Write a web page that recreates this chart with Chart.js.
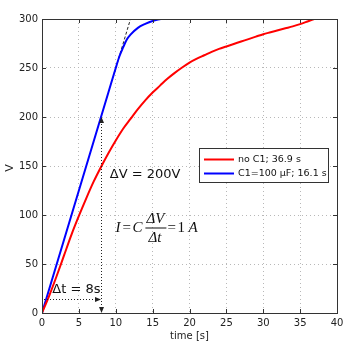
<!DOCTYPE html>
<html><head><meta charset="utf-8">
<script src="https://cdn.jsdelivr.net/npm/chart.js@4.4.1/dist/chart.umd.min.js"></script>
<style>html,body{margin:0;padding:0;background:#fff;}#wrap{width:357px;height:356px;}</style>
</head><body><div id="wrap"><canvas id="c" width="357" height="356"></canvas></div>
<script>
// ---- data ----
const redT = [0,1,2,3,4,5,6,7,8,9,10,11,12,13,14,15,16,17,18,19,20,21,22,23,24,25,26,27,28,29,30,31,32,33,34,35,36,36.9];
const redV = [0,18,38,59,80,99,117,134,149,163,176,188,198,208,217,225,232,239,245,250.5,255.5,259.5,263,266.5,269.5,272,274.5,277,279.5,282,284.5,286.5,288.5,290.5,292.5,294.8,297.5,300];
const blueT = [0,1,2,3,4,5,6,7,8,9,10,10.5,11,11.5,12,13,14,15,16.1];
const blueV = [0,25,50,75,100,125,150,175,200,225,250,262,271,279,284,291,295,298,300];
const tangentT = [9.8,12];
const tangentV = [245,300];
const seriesLabels = ['no C1; 36.9 s','C1=100 µF; 16.1 s'];
const xTicks = {min:0,max:40,step:5};
const yTicks = {min:0,max:300,step:50};
const dtValue = 8, dvValue = 200, dtArrowV = 14;
const xTitle = 'time [s]', yTitle = 'V';

const pts = (xs,ys)=>xs.map((x,i)=>({x,y:ys[i]}));

const annot = {
  id:'annot',
  afterDatasetsDraw(chart){
    const {ctx, chartArea:a, scales:{x,y}} = chart;
    ctx.save();
    // frame
    ctx.strokeStyle='#333'; ctx.lineWidth=1; ctx.setLineDash([]);
    ctx.strokeRect(Math.round(a.left)+0.5, Math.round(a.top)+0.5, Math.round(a.right-a.left), Math.round(a.bottom-a.top));
    // inward ticks
    ctx.beginPath();
    for(let v=xTicks.min; v<=xTicks.max; v+=xTicks.step){
      const px=Math.round(x.getPixelForValue(v))+0.5;
      ctx.moveTo(px,a.bottom); ctx.lineTo(px,a.bottom-4);
      ctx.moveTo(px,a.top); ctx.lineTo(px,a.top+4);
    }
    for(let v=yTicks.min; v<=yTicks.max; v+=yTicks.step){
      const py=Math.round(y.getPixelForValue(v))+0.5;
      ctx.moveTo(a.left,py); ctx.lineTo(a.left+4,py);
      ctx.moveTo(a.right,py); ctx.lineTo(a.right-4,py);
    }
    ctx.stroke();
    // dotted annotations
    ctx.strokeStyle='#222'; ctx.fillStyle='#222'; ctx.lineWidth=1; ctx.setLineDash([1,2]);
    const vx=Math.round(x.getPixelForValue(dtValue))+0.5;
    const vTop=y.getPixelForValue(dvValue), vBot=y.getPixelForValue(0);
    ctx.beginPath(); ctx.moveTo(vx,vTop+4); ctx.lineTo(vx,vBot-4); ctx.stroke();
    const hy=Math.round(y.getPixelForValue(dtArrowV))+0.5;
    const hL=x.getPixelForValue(0), hR=x.getPixelForValue(dtValue);
    ctx.beginPath(); ctx.moveTo(hL+2,hy); ctx.lineTo(hR-4,hy); ctx.stroke();
    ctx.setLineDash([]);
    const tri=(p)=>{ctx.beginPath();ctx.moveTo(p[0],p[1]);ctx.lineTo(p[2],p[3]);ctx.lineTo(p[4],p[5]);ctx.closePath();ctx.fill();};
    tri([vx,vTop, vx-2.5,vTop+6, vx+2.5,vTop+6]);
    tri([vx,vBot, vx-2.5,vBot-6, vx+2.5,vBot-6]);
    tri([hR,hy, hR-6,hy-2.5, hR-6,hy+2.5]);
    // texts
    ctx.fillStyle='#111';
    ctx.font='13px "DejaVu Sans"'; ctx.textBaseline='middle'; ctx.textAlign='left';
    ctx.fillText('\u0394V = 200V', x.getPixelForValue(9.2), y.getPixelForValue(141));
    ctx.fillText('\u0394t = 8s', x.getPixelForValue(1.4), y.getPixelForValue(24));
    // formula
    const it='italic 15px "Liberation Serif"', rm='15px "Liberation Serif"';
    const fx=x.getPixelForValue(9.95), fy=y.getPixelForValue(87);
    ctx.font=it; ctx.fillText('I', fx, fy);
    ctx.font=rm; ctx.fillText('=', fx+7, fy);
    ctx.font=it; ctx.fillText('C', fx+17, fy);
    const fracX=fx+30;
    ctx.fillText('\u0394V', fracX+1, fy-9);
    ctx.fillText('\u0394t', fracX+3, fy+10);
    ctx.fillRect(fracX, Math.round(fy)-0.5, 21, 1);
    ctx.font=rm; ctx.fillText('=', fracX+22, fy);
    ctx.fillText('1', fracX+32, fy);
    ctx.font=it; ctx.fillText('A', fracX+43, fy);
    // legend
    const lx=Math.round(x.getPixelForValue(21.3)), ly=Math.round(y.getPixelForValue(168.4)), lw=129, lh=34;
    ctx.fillStyle='#fff'; ctx.fillRect(lx,ly,lw,lh);
    ctx.strokeStyle='#333'; ctx.lineWidth=1;
    ctx.strokeRect(lx+0.5,ly+0.5,lw,lh);
    ctx.font='9.5px "DejaVu Sans"'; ctx.textBaseline='middle';
    chart.data.datasets.slice(0,2).forEach((ds,i)=>{
      const ry=Math.round(ly+11+i*14)+0.5;
      ctx.strokeStyle=ds.borderColor; ctx.lineWidth=2;
      ctx.beginPath(); ctx.moveTo(lx+5,ry); ctx.lineTo(lx+35,ry); ctx.stroke();
      ctx.fillStyle='#111'; ctx.fillText(ds.label, lx+39, ry);
    });
    // axis titles
    ctx.fillStyle='#222'; ctx.font='10px "DejaVu Sans"'; ctx.textAlign='center';
    ctx.fillText(xTitle, (a.left+a.right)/2, a.bottom+23);
    ctx.save(); ctx.translate(10,(a.top+a.bottom)/2+2); ctx.rotate(-Math.PI/2);
    ctx.font='11px "DejaVu Sans"'; ctx.fillText(yTitle,0,0); ctx.restore();
    ctx.restore();
  }
};

new Chart(document.getElementById('c'),{
  type:'scatter',
  data:{datasets:[
    {label:seriesLabels[0], data:pts(redT,redV), borderColor:'#ff0000', borderWidth:2, showLine:true, pointRadius:0, cubicInterpolationMode:'monotone'},
    {label:seriesLabels[1], data:pts(blueT,blueV), borderColor:'#0000ff', borderWidth:2, showLine:true, pointRadius:0, cubicInterpolationMode:'monotone'},
    {label:'tangent', data:pts(tangentT,tangentV), borderColor:'#222', borderWidth:1, borderDash:[3,2], showLine:true, pointRadius:0}
  ]},
  options:{
    responsive:false, animation:false, devicePixelRatio:1,
    layout:{padding:{top:19,right:20,left:0,bottom:0}},
    plugins:{legend:{display:false},tooltip:{enabled:false}},
    scales:{
      x:{type:'linear',min:xTicks.min,max:xTicks.max,
        afterFit:(s)=>{s.height=43;},
        ticks:{stepSize:xTicks.step,color:'#222',font:{family:'DejaVu Sans',size:10},padding:4,maxRotation:0},
        grid:{color:'#b8b8b8',drawTicks:false},border:{display:false,dash:[1,3]}},
      y:{type:'linear',min:yTicks.min,max:yTicks.max,
        afterFit:(s)=>{s.width=42;},
        ticks:{stepSize:yTicks.step,color:'#222',font:{family:'DejaVu Sans',size:10},padding:4},
        grid:{color:'#b8b8b8',drawTicks:false},border:{display:false,dash:[1,3]}}
    }
  },
  plugins:[annot]
});
</script></body></html>
